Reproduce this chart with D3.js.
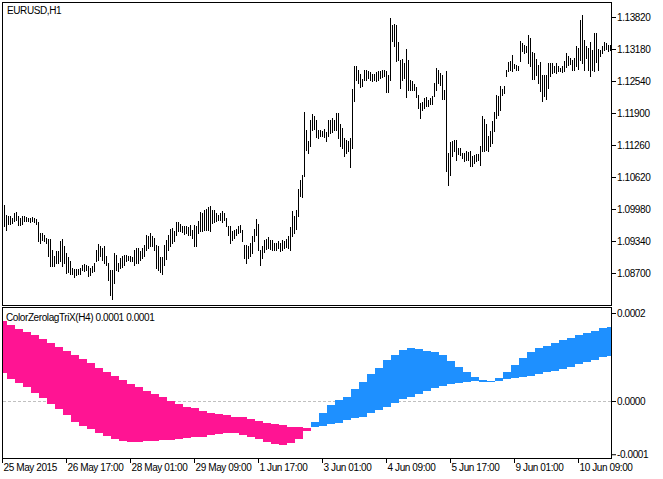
<!DOCTYPE html>
<html><head><meta charset="utf-8">
<script src="https://cdn.jsdelivr.net/npm/d3@7"></script>
<style>
html,body{margin:0;padding:0;background:#fff;}
svg{display:block;}
text{font-family:"Liberation Sans",Arial,sans-serif;font-size:10px;letter-spacing:-0.4px;fill:#000;}
</style>
</head><body>
<svg id="c" width="663" height="479"></svg>
<script>
const symbolLabel = "EURUSD,H1";
const indicatorLabel = "ColorZerolagTriX(H4) 0.0001 0.0001";

// H1 bars, high and low
const highs = [
1.10030,1.10066,1.09866,1.09833,1.09846,1.09799,1.09899,1.09913,1.09833,1.09799,
1.09833,1.09846,1.09819,1.09799,1.09799,1.09813,1.09799,1.09779,1.09713,1.09499,
1.09499,1.09466,1.09399,1.09379,1.09379,1.09166,1.09046,1.09133,1.09133,1.09333,
1.09379,1.09233,1.09099,1.09019,1.08933,1.08799,1.08779,1.08779,1.08779,1.08799,
1.08866,1.08886,1.08866,1.08833,1.08799,1.08846,1.08899,1.09153,1.09279,1.09246,
1.09199,1.09233,1.09046,1.08899,1.08766,1.08766,1.09099,1.09066,1.08899,1.08999,
1.09033,1.09066,1.09066,1.09046,1.09046,1.09019,1.09166,1.09199,1.09193,1.09133,
1.09199,1.09266,1.09466,1.09446,1.09499,1.09446,1.09399,1.09266,1.09233,1.09019,
1.09019,1.09266,1.09353,1.09466,1.09579,1.09599,1.09533,1.09713,1.09713,1.09686,
1.09646,1.09633,1.09646,1.09619,1.09666,1.09566,1.09666,1.09646,1.09733,1.09913,
1.09899,1.09966,1.09979,1.10019,1.10046,1.09966,1.09953,1.09899,1.09866,1.09899,
1.09933,1.09899,1.09799,1.09646,1.09633,1.09533,1.09566,1.09579,1.09646,1.09666,
1.09566,1.09266,1.09266,1.09233,1.09299,1.09433,1.09579,1.09779,1.09686,1.09166,
1.09246,1.09366,1.09379,1.09419,1.09366,1.09353,1.09299,1.09299,1.09333,1.09299,
1.09353,1.09333,1.09379,1.09433,1.09619,1.09933,1.09833,1.09953,1.10379,1.10566,
1.10666,1.11919,1.11566,1.11333,1.11766,1.11886,1.11833,1.11753,1.11566,1.11566,
1.11533,1.11579,1.11513,1.11753,1.11753,1.11799,1.11753,1.11899,1.11899,1.11686,
1.11599,1.11399,1.11366,1.11333,1.11399,1.12379,1.12833,1.12846,1.12766,1.12686,
1.12579,1.12766,1.12753,1.12733,1.12713,1.12686,1.12686,1.12713,1.12733,1.12733,
1.12753,1.12753,1.12733,1.12666,1.13799,1.13666,1.13686,1.13666,1.13313,1.12966,
1.12979,1.12899,1.13179,1.12953,1.12566,1.12533,1.12486,1.12419,1.12266,1.12099,
1.12113,1.12199,1.12219,1.12166,1.12199,1.12246,1.12499,1.12799,1.12766,1.12699,
1.12666,1.12366,1.12733,1.11099,1.11313,1.11333,1.11366,1.11366,1.11199,1.11199,
1.11099,1.11099,1.11133,1.11113,1.11133,1.11046,1.11066,1.11086,1.11086,1.11233,
1.11833,1.11779,1.11686,1.11446,1.11533,1.11733,1.11913,1.12266,1.12246,1.12446,
1.12379,1.12446,1.12766,1.12913,1.12933,1.13066,1.12886,1.12866,1.12846,1.13333,
1.13299,1.13266,1.13233,1.13466,1.13399,1.13113,1.13099,1.12979,1.12866,1.12913,
1.12666,1.12666,1.12666,1.12899,1.12899,1.12899,1.12833,1.12899,1.12833,1.12799,
1.12833,1.12933,1.13099,1.13033,1.12999,1.12953,1.12999,1.13233,1.13199,1.13753,
1.13866,1.13366,1.13233,1.13199,1.13313,1.13166,1.13499,1.13499,1.13179,1.13166,
1.13233,1.13313,1.13299,1.13266,1.13266
];
const lows = [
1.09720,1.09646,1.09566,1.09686,1.09686,1.09699,1.09733,1.09753,1.09666,1.09666,
1.09686,1.09733,1.09733,1.09733,1.09713,1.09733,1.09713,1.09686,1.09333,1.09299,
1.09353,1.09333,1.09299,1.09033,1.08833,1.08833,1.08833,1.08899,1.08899,1.08933,
1.08833,1.08899,1.08699,1.08713,1.08686,1.08686,1.08619,1.08666,1.08686,1.08686,
1.08766,1.08733,1.08766,1.08633,1.08666,1.08713,1.08733,1.08933,1.08966,1.09033,
1.08966,1.08899,1.08866,1.08566,1.08266,1.08179,1.08499,1.08766,1.08733,1.08799,
1.08819,1.08866,1.08933,1.08953,1.08933,1.08933,1.08866,1.08899,1.08899,1.08966,
1.08999,1.09046,1.09166,1.09199,1.09233,1.09233,1.09166,1.08799,1.08753,1.08713,
1.08686,1.08866,1.08979,1.09166,1.09233,1.09299,1.09333,1.09466,1.09533,1.09533,
1.09513,1.09486,1.09499,1.09466,1.09466,1.09399,1.09233,1.09233,1.09499,1.09533,
1.09533,1.09566,1.09566,1.09553,1.09533,1.09699,1.09713,1.09733,1.09766,1.09753,
1.09713,1.09766,1.09633,1.09466,1.09299,1.09353,1.09399,1.09466,1.09499,1.09513,
1.09333,1.08999,1.08899,1.08999,1.09033,1.09099,1.09333,1.09466,1.09166,1.08866,
1.08999,1.09113,1.09179,1.09199,1.09179,1.09166,1.09153,1.09166,1.09199,1.09133,
1.09166,1.09199,1.09219,1.09199,1.09153,1.09433,1.09499,1.09579,1.09833,1.10233,
1.10219,1.10633,1.11153,1.11099,1.11233,1.11566,1.11579,1.11419,1.11399,1.11433,
1.11446,1.11419,1.11333,1.11433,1.11499,1.11513,1.11566,1.11566,1.11399,1.11233,
1.11199,1.11033,1.11099,1.11133,1.10819,1.11199,1.12133,1.12566,1.12499,1.12419,
1.12446,1.12566,1.12566,1.12599,1.12553,1.12533,1.12553,1.12533,1.12566,1.12599,
1.12619,1.12633,1.12313,1.12313,1.12566,1.13333,1.13233,1.12933,1.12966,1.12399,
1.12566,1.12599,1.12219,1.12366,1.12353,1.12366,1.12353,1.12219,1.11999,1.11799,
1.11966,1.11999,1.12046,1.12046,1.12086,1.12086,1.12233,1.12366,1.12499,1.12466,
1.12179,1.12179,1.10733,1.10466,1.10666,1.11033,1.11133,1.10953,1.11086,1.11066,
1.10999,1.10933,1.10953,1.10966,1.10833,1.10833,1.10899,1.10933,1.10953,1.10866,
1.11133,1.11133,1.11166,1.11133,1.11233,1.11299,1.11533,1.11799,1.11866,1.11966,
1.12266,1.12299,1.12633,1.12733,1.12766,1.12733,1.12799,1.12766,1.12766,1.12933,
1.13133,1.13099,1.13113,1.12899,1.12833,1.12579,1.12579,1.12666,1.12499,1.12333,
1.12133,1.12233,1.12179,1.12399,1.12633,1.12699,1.12713,1.12699,1.12733,1.12733,
1.12713,1.12733,1.12819,1.12866,1.12886,1.12766,1.12753,1.12833,1.12779,1.12966,
1.12899,1.12766,1.12999,1.12753,1.12633,1.12753,1.12733,1.12913,1.12766,1.13046,
1.13099,1.13153,1.13179,1.13133,1.13166
];

// ColorZerolagTriX on H4: one value per H4 block (first block holds 3 H1 bars)
const trixFast = [
0.630e-4,0.493e-4,0.402e-4,0.311e-4,0.175e-4,0.061e-4,-0.068e-4,-0.189e-4,-0.318e-4,-0.470e-4,
-0.568e-4,-0.643e-4,-0.720e-4,-0.795e-4,-0.857e-4,-0.916e-4,-0.932e-4,-0.932e-4,-0.916e-4,-0.902e-4,
-0.886e-4,-0.886e-4,-0.870e-4,-0.848e-4,-0.825e-4,-0.811e-4,-0.780e-4,-0.750e-4,-0.720e-4,-0.734e-4,
-0.773e-4,-0.811e-4,-0.870e-4,-0.925e-4,-0.977e-4,-0.993e-4,-0.961e-4,-0.870e-4,-0.675e-4,
-0.484e-4,-0.280e-4,-0.091e-4,0.023e-4,0.098e-4,0.266e-4,0.439e-4,0.614e-4,0.743e-4,0.932e-4,
1.045e-4,1.159e-4,1.198e-4,1.175e-4,1.143e-4,1.120e-4,1.045e-4,0.909e-4,0.780e-4,0.666e-4,
0.539e-4,0.477e-4,0.455e-4,0.516e-4,0.666e-4,0.818e-4,0.970e-4,1.120e-4,1.198e-4,1.250e-4,
1.325e-4,1.386e-4,1.439e-4,1.500e-4,1.539e-4,1.591e-4,1.652e-4,1.675e-4
];
const trixSignal = [
1.825e-4,1.727e-4,1.630e-4,1.575e-4,1.500e-4,1.402e-4,1.325e-4,1.234e-4,1.143e-4,1.045e-4,
0.948e-4,0.857e-4,0.757e-4,0.666e-4,0.568e-4,0.477e-4,0.386e-4,0.311e-4,0.234e-4,0.159e-4,
0.084e-4,0.007e-4,-0.068e-4,-0.130e-4,-0.166e-4,-0.220e-4,-0.266e-4,-0.295e-4,-0.318e-4,-0.357e-4,
-0.370e-4,-0.416e-4,-0.448e-4,-0.493e-4,-0.530e-4,-0.552e-4,-0.584e-4,-0.598e-4,-0.607e-4,
-0.584e-4,-0.568e-4,-0.523e-4,-0.493e-4,-0.432e-4,-0.393e-4,-0.357e-4,-0.280e-4,-0.205e-4,-0.143e-4,
-0.052e-4,0.039e-4,0.098e-4,0.159e-4,0.234e-4,0.289e-4,0.341e-4,0.386e-4,0.416e-4,0.439e-4,
0.455e-4,0.439e-4,0.432e-4,0.455e-4,0.493e-4,0.516e-4,0.539e-4,0.568e-4,0.614e-4,0.666e-4,
0.689e-4,0.727e-4,0.780e-4,0.841e-4,0.893e-4,0.932e-4,0.993e-4,1.023e-4
];

const priceTicks = [1.13820,1.13180,1.12540,1.11900,1.11260,1.10620,1.09980,1.09340,1.08700];
const priceTickLabels = ["1.13820","1.13180","1.12540","1.11900","1.11260","1.10620","1.09980","1.09340","1.08700"];
const trixTicks = [0.0002, 0.0, -0.000121];
const trixTickLabels = ["0.0002","0.0000","-0.0001"];
const timeTickBars = [0,32,64,96,128,160,192,224,256,288];
const timeTickLabels = ["25 May 2015","26 May 17:00","28 May 01:00","29 May 09:00","1 Jun 17:00","3 Jun 01:00","4 Jun 09:00","5 Jun 17:00","9 Jun 01:00","10 Jun 09:00"];
const firstBlockBars = 3, barsPerBlock = 4;

const PINK = "#FF1493", BLUE = "#1E90FF";
const svg = d3.select("#c");
const N = highs.length;

const x = d3.scaleLinear().domain([0, N - 1]).range([2, 2 + 2 * (N - 1)]);
const yP = d3.scaleLinear().domain([1.08700, 1.13820]).range([273, 17]);
const yT = d3.scaleLinear().domain([0, 0.0002]).range([401, 313]);

const defs = svg.append("defs");
defs.append("clipPath").attr("id","cTop").append("rect").attr("x",3).attr("y",3).attr("width",608).attr("height",302);
defs.append("clipPath").attr("id","cBot").append("rect").attr("x",3).attr("y",308).attr("width",608).attr("height",150);

// price bars
svg.append("g").attr("clip-path","url(#cTop)")
  .selectAll("rect").data(d3.range(N)).join("rect")
  .attr("x", i => x(i))
  .attr("width", 1)
  .attr("y", i => Math.round(yP(highs[i])))
  .attr("height", i => Math.max(1, Math.round(yP(lows[i])) - Math.round(yP(highs[i])) + 1))
  .attr("fill", "#000");

// zero line
svg.append("line")
  .attr("x1", 3).attr("x2", 611)
  .attr("y1", Math.round(yT(0)) + 0.5).attr("y2", Math.round(yT(0)) + 0.5)
  .attr("stroke", "#c0c0c0").attr("stroke-width", 1).attr("stroke-dasharray", "3,2");

// indicator band per H4 block
const blocks = trixFast.map((f, b) => {
  const start = b === 0 ? 0 : firstBlockBars + (b - 1) * barsPerBlock;
  const end = Math.min(b === 0 ? firstBlockBars - 1 : start + barsPerBlock - 1, N - 1);
  return {start, end, f, s: trixSignal[b]};
});
svg.append("g").attr("clip-path","url(#cBot)")
  .selectAll("rect").data(blocks).join("rect")
  .attr("x", d => x(d.start) - 1)
  .attr("width", d => x(d.end) - x(d.start) + 2)
  .attr("y", d => Math.round(yT(Math.max(d.f, d.s))))
  .attr("height", d => Math.max(1, Math.round(yT(Math.min(d.f, d.s))) - Math.round(yT(Math.max(d.f, d.s)))))
  .attr("fill", d => d.f >= d.s ? BLUE : PINK);

// frames
svg.append("rect").attr("x",2.5).attr("y",2.5).attr("width",609).attr("height",303)
  .attr("fill","none").attr("stroke","#000");
svg.append("rect").attr("x",2.5).attr("y",307.5).attr("width",609).attr("height",151)
  .attr("fill","none").attr("stroke","#000");

// price axis
const ax1 = svg.append("g").attr("transform","translate(612,0)")
  .call(d3.axisRight(yP).tickValues(priceTicks).tickFormat((d,i) => priceTickLabels[i]).tickSize(4).tickPadding(1));
// indicator axis
const ax2 = svg.append("g").attr("transform","translate(612,0)")
  .call(d3.axisRight(yT).tickValues(trixTicks).tickFormat((d,i) => trixTickLabels[i]).tickSize(4).tickPadding(1));
// time axis
const ax3 = svg.append("g").attr("transform","translate(0,459)")
  .call(d3.axisBottom(x).tickValues(timeTickBars).tickFormat((d,i) => timeTickLabels[i]).tickSize(4).tickPadding(1));
[ax1, ax2, ax3].forEach(a => {
  a.select(".domain").remove();
  a.selectAll("line").attr("stroke","#000");
  a.selectAll("text").attr("fill","#000").style("font-family",'"Liberation Sans",Arial,sans-serif').style("font-size","10px");
});
ax3.selectAll("text").attr("text-anchor","start").attr("x",1);

// titles
svg.append("text").attr("x",7).attr("y",14).text(symbolLabel);
svg.append("text").attr("x",6).attr("y",321).text(indicatorLabel);
</script>
</body></html>
